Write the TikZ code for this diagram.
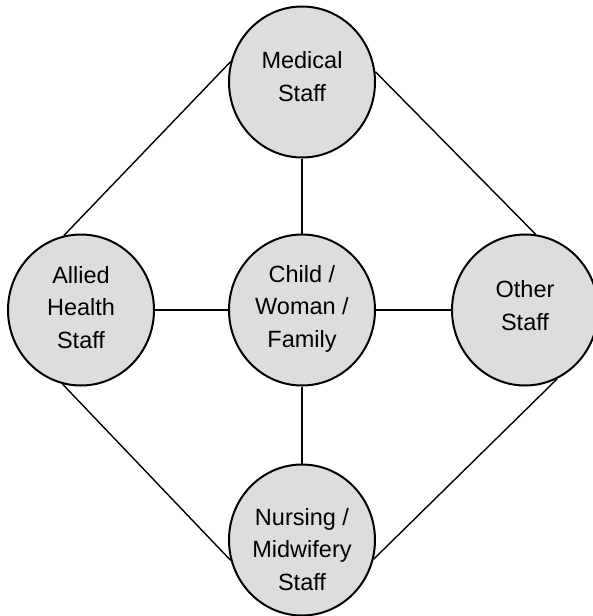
\documentclass[tikz,border=0pt]{standalone}
\usepackage{fontspec}
\setmainfont{Liberation Sans}
\usetikzlibrary{shapes.geometric}
\definecolor{staffgray}{RGB}{221,221,221}

\begin{document}
\begin{tikzpicture}[x=0.5pt, y=-0.5pt,
		staff/.style={draw, ellipse, line width=1pt, fill=staffgray, minimum width=73pt, minimum height=75.5pt,
			inner sep=0pt, align=center, text depth=0pt, font=\fontsize{11.75}{16.1}\selectfont},
		link/.style={line width=0.7pt}]
			\useasboundingbox (0, 0) rectangle (593, 616);

			\draw (302, 82) 	node[staff, text height=19pt] 	(medical) 	{Medical\\Staff};
			\draw (81, 310) 	node[staff, text height=38pt] 	(allied) 	{Allied\\Health\\Staff};
			\draw (302, 310) 	node[staff, text height=37pt] 	(family) 	{Child /\\Woman /\\Family};
			\draw (525, 310) 	node[staff, text height=20pt] 	(other) 	{Other\\Staff};
			\draw (302, 540) 	node[staff, text height=50pt] 	(nursing) 	{Nursing /\\Midwifery\\Staff};

			\draw[link] (medical) -- (family) -- (nursing);
			\draw[link] (allied) -- (family) -- (other);
			\draw[link] (allied.103) -- (medical.164);
			\draw[link] (medical.8) -- (other.82);
			\draw[link] (allied.256) -- (nursing.196);
			\draw[link] (other.295) -- (nursing.345);
		\end{tikzpicture}
\end{document}
